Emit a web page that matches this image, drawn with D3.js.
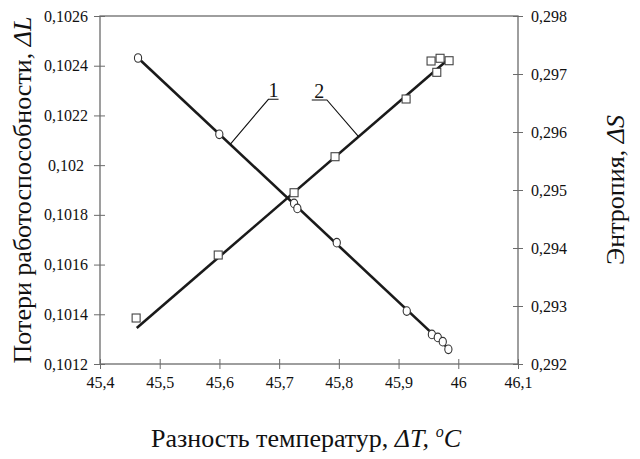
<!DOCTYPE html>
<html>
<head>
<meta charset="utf-8">
<script src="https://cdn.jsdelivr.net/npm/d3@7/dist/d3.min.js"></script>
<style>
  html, body { margin: 0; padding: 0; background: #fff; }
  svg { display: block; font-family: "Liberation Serif", "Times New Roman", serif; }
</style>
</head>
<body>
<svg id="chart" width="640" height="459"></svg>
<script>
// Temperature difference ΔT, °C and work-capacity losses ΔL (series 1, circles)
const tempL = [45.4637, 45.5998, 45.725, 45.7305, 45.7965, 45.9137, 45.9558, 45.9657, 45.974, 45.9834];
const lossL = [0.102431, 0.102124, 0.101846, 0.101826, 0.101688, 0.101413, 0.101319, 0.101307, 0.10129, 0.101259];

// Temperature difference ΔT, °C and entropy ΔS (series 2, squares)
const tempS = [45.4605, 45.598, 45.725, 45.7936, 45.9126, 45.9544, 45.964, 45.9695, 45.9846];
const entropyS = [0.292793, 0.293879, 0.294953, 0.295574, 0.296569, 0.297224, 0.297029, 0.297271, 0.297229];

// Linear trend lines (end points)
const trendTempL = [45.4637, 45.9834];
const trendLossL = [0.102431, 0.101262];
const trendTempS = [45.4615, 45.981];
const trendEntropyS = [0.292621, 0.297233];

// Tick values
const xTicks = [45.4, 45.5, 45.6, 45.7, 45.8, 45.9, 46.0, 46.1];
const yLeftTicks = [0.1012, 0.1014, 0.1016, 0.1018, 0.102, 0.1022, 0.1024, 0.1026];
const yRightTicks = [0.292, 0.293, 0.294, 0.295, 0.296, 0.297, 0.298];

// Callout labels: ΔT where the leader meets the trend, elbow (ΔT, value), ΔT of underline end
const calloutNames = ["1", "2"];
const calloutFootT = [45.618, 45.833];
const calloutElbowT = [45.682, 45.780];
const calloutElbowV = [0.102265, 0.296552];
const calloutEndT = [45.699, 45.7546];

const svg = d3.select("#chart");
const M = { left: 100, right: 518, top: 16, bottom: 364 };

const x = d3.scaleLinear().domain([45.4, 46.1]).range([M.left, M.right]);
const yL = d3.scaleLinear().domain([0.1012, 0.1026]).range([M.bottom, M.top]);
const yR = d3.scaleLinear().domain([0.292, 0.298]).range([M.bottom, M.top]);

const axisColor = "#6b6b6b";
const fmtComma = d => String(+d.toFixed(4)).replace(".", ",");

// Plot frame
svg.append("rect")
  .attr("x", M.left).attr("y", M.top)
  .attr("width", M.right - M.left).attr("height", M.bottom - M.top)
  .attr("fill", "none").attr("stroke", axisColor).attr("stroke-width", 1.3);

// Axes
function styleAxis(g) {
  g.attr("font-family", '"Liberation Serif", "Times New Roman", serif');
  g.select(".domain").remove();
  g.selectAll(".tick line").attr("stroke", axisColor).attr("stroke-width", 1);
  g.selectAll(".tick text").attr("fill", "#111").attr("font-size", 16);
}

const xAxis = svg.append("g")
  .attr("transform", `translate(0,${M.bottom})`)
  .call(d3.axisBottom(x).tickValues(xTicks).tickSize(5).tickPadding(8).tickFormat(fmtComma))
  .call(styleAxis);
xAxis.selectAll(".tick line").attr("y1", -5).attr("y2", 5);

const yAxisL = svg.append("g")
  .attr("transform", `translate(${M.left},0)`)
  .call(d3.axisLeft(yL).tickValues(yLeftTicks).tickSize(6).tickPadding(10).tickFormat(fmtComma))
  .call(styleAxis);
yAxisL.selectAll(".tick line").attr("x1", -6).attr("x2", 5);
yAxisL.selectAll(".tick text").attr("text-anchor", "middle").attr("x", -34);

const yAxisR = svg.append("g")
  .attr("transform", `translate(${M.right},0)`)
  .call(d3.axisRight(yR).tickValues(yRightTicks).tickSize(5).tickPadding(8).tickFormat(fmtComma))
  .call(styleAxis);
yAxisR.selectAll(".tick line").attr("x1", -5).attr("x2", 5);

// Trend lines
const lineColor = "#1a1a1a";
const trend1 = trendTempL.map((t, i) => [x(t), yL(trendLossL[i])]);
const trend2 = trendTempS.map((t, i) => [x(t), yR(trendEntropyS[i])]);
svg.append("path").attr("d", d3.line()(trend1))
  .attr("fill", "none").attr("stroke", lineColor).attr("stroke-width", 2.6);
svg.append("path").attr("d", d3.line()(trend2))
  .attr("fill", "none").attr("stroke", lineColor).attr("stroke-width", 2.6);

// Callout leaders and numbers
function onTrend(t, ts, vs) {
  return d3.scaleLinear().domain(ts).range(vs)(t);
}
calloutNames.forEach((name, i) => {
  const scaleV = i === 0 ? yL : yR;
  const footV = i === 0 ? onTrend(calloutFootT[i], trendTempL, trendLossL)
                        : onTrend(calloutFootT[i], trendTempS, trendEntropyS);
  const pts = [
    [x(calloutFootT[i]), scaleV(footV)],
    [x(calloutElbowT[i]), scaleV(calloutElbowV[i])],
    [x(calloutEndT[i]), scaleV(calloutElbowV[i])]
  ];
  svg.append("path").attr("d", d3.line()(pts))
    .attr("fill", "none").attr("stroke", "#111").attr("stroke-width", 1.1);
  const cx = (x(calloutElbowT[i]) + x(calloutEndT[i])) / 2;
  svg.append("text").attr("x", cx).attr("y", scaleV(calloutElbowV[i]) - 2)
    .attr("text-anchor", "middle").attr("font-size", 20).attr("fill", "#111").text(name);
});

// Markers: squares (ΔS) and circles (ΔL)
const sq = 8;
svg.append("g").selectAll("rect").data(tempS).join("rect")
  .attr("x", (t) => x(t) - sq / 2)
  .attr("y", (t, i) => yR(entropyS[i]) - sq / 2)
  .attr("width", sq).attr("height", sq)
  .attr("fill", "#fff").attr("stroke", "#444").attr("stroke-width", 1.1);

svg.append("g").selectAll("ellipse").data(tempL).join("ellipse")
  .attr("cx", (t) => x(t))
  .attr("cy", (t, i) => yL(lossL[i]))
  .attr("rx", 3.6).attr("ry", 4.3)
  .attr("fill", "#fff").attr("stroke", "#333").attr("stroke-width", 1.1);

// Axis titles
const leftTitle = svg.append("text")
  .attr("transform", `translate(31,${(M.top + M.bottom) / 2}) rotate(-90)`)
  .attr("text-anchor", "middle").attr("font-size", 26).attr("fill", "#111");
leftTitle.append("tspan").text("Потери работоспособности, ");
leftTitle.append("tspan").attr("font-style", "italic").text("ΔL");

const rightTitle = svg.append("text")
  .attr("transform", `translate(624,${(M.top + M.bottom) / 2}) rotate(-90)`)
  .attr("text-anchor", "middle").attr("font-size", 26).attr("fill", "#111");
rightTitle.append("tspan").text("Энтропия, ");
rightTitle.append("tspan").attr("font-style", "italic").text("ΔS");

const bottomTitle = svg.append("text")
  .attr("x", 306).attr("y", 447)
  .attr("text-anchor", "middle").attr("font-size", 26).attr("fill", "#111");
bottomTitle.append("tspan").text("Разность температур, ");
bottomTitle.append("tspan").attr("font-style", "italic").text("ΔT, ");
bottomTitle.append("tspan").attr("font-style", "italic").attr("font-size", 16).attr("dy", -10).text("o");
bottomTitle.append("tspan").attr("font-style", "italic").attr("dy", 10).text("C");
</script>
</body>
</html>
